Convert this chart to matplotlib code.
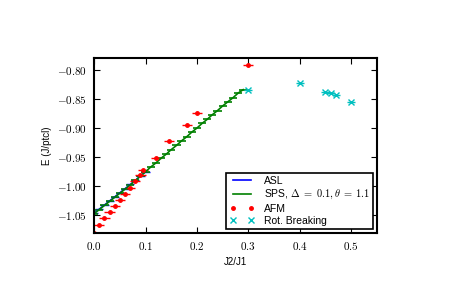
import matplotlib
matplotlib.use("Agg")
import matplotlib.pyplot as plt
from matplotlib.lines import Line2D
from matplotlib.ticker import FuncFormatter, MultipleLocator

plt.rcParams['mathtext.fontset'] = 'cm'
plt.rcParams['font.family'] = ['Liberation Sans', 'DejaVu Sans']

# ASL
asl_x = [0.0, 0.01, 0.02, 0.03, 0.04, 0.05, 0.06, 0.07, 0.08, 0.09, 0.10]
asl_y = [-1.046, -1.039, -1.032, -1.025, -1.018, -1.011, -1.004, -0.997, -0.990, -0.982, -0.975]

# SPS, Delta=0.1, theta=1.1
sps_x = [0.00, 0.01, 0.02, 0.03, 0.04, 0.05, 0.06, 0.07, 0.08, 0.09,
         0.10, 0.11, 0.12, 0.13, 0.14, 0.15, 0.16, 0.17, 0.18, 0.19,
         0.20, 0.21, 0.22, 0.23, 0.24, 0.25, 0.26, 0.27, 0.28, 0.29]
sps_y = [-1.047, -1.040, -1.033, -1.026, -1.019, -1.012, -1.005, -0.998, -0.990, -0.983,
         -0.975, -0.967, -0.960, -0.952, -0.945, -0.937, -0.930, -0.922, -0.915, -0.907,
         -0.900, -0.892, -0.885, -0.877, -0.870, -0.862, -0.855, -0.848, -0.840, -0.834]

# AFM
afm_x = [0.00, 0.01, 0.02, 0.03, 0.04, 0.05, 0.06, 0.07, 0.08, 0.09,
         0.095, 0.12, 0.145, 0.18, 0.20, 0.30]
afm_y = [-1.080, -1.067, -1.055, -1.045, -1.034, -1.024, -1.014, -1.003, -0.991, -0.981,
         -0.972, -0.951, -0.922, -0.894, -0.875, -0.791]

# Rot. Breaking
rot_x = [0.30, 0.40, 0.45, 0.46, 0.47, 0.50]
rot_y = [-0.834, -0.822, -0.838, -0.839, -0.843, -0.856]

fig = plt.figure(figsize=(4.71, 2.91), dpi=100)
ax = fig.add_axes([0.2, 0.2, 0.6, 0.6])

ax.errorbar(asl_x, asl_y, xerr=0.008, color='blue', lw=1.0)
ax.errorbar(sps_x, sps_y, xerr=0.008, color='green', lw=1.2)
ax.errorbar(afm_x, afm_y, xerr=0.01, color='red', fmt='o', ms=2.5, lw=1.0)
ax.errorbar(rot_x, rot_y, xerr=0.008, color='c', fmt='x', ms=4.5, mew=1.0, lw=1.0)

ax.set_xlim(0, 0.55)
ax.set_ylim(-1.08, -0.78)
ax.xaxis.set_major_locator(MultipleLocator(0.1))
ax.yaxis.set_major_locator(MultipleLocator(0.05))
ax.xaxis.set_major_formatter(FuncFormatter(lambda v, p: r'$%.1f$' % v))
ax.yaxis.set_major_formatter(FuncFormatter(lambda v, p: r'$%.2f$' % v))
ax.tick_params(direction='in', top=True, right=True, labelsize=8, length=4, width=0.8, pad=5)
for s in ax.spines.values():
    s.set_linewidth(1.5)

ax.set_xlabel('J2/J1', fontsize=7)
ax.set_ylabel('E (J/ptcl)', fontsize=7)

handles = [
    Line2D([], [], color='blue', lw=1.2),
    Line2D([], [], color='green', lw=1.2),
    Line2D([], [], color='red', ls='none', marker='o', ms=2.5),
    Line2D([], [], color='c', ls='none', marker='x', ms=4.5, mew=1.0),
]
labels = ['ASL', r'SPS, $\Delta\;=\;0.1, \theta\;=\;1.1$', 'AFM', 'Rot. Breaking']
leg = ax.legend(handles, labels, loc='lower right', fontsize=7.5, numpoints=2, fancybox=False,
                framealpha=1, borderaxespad=0.35, handlelength=2.4, labelspacing=0.22,
                borderpad=0.3, handletextpad=0.9)
leg.get_frame().set_edgecolor('black')
leg.get_frame().set_linewidth(1.2)

fig.savefig('out.png', dpi=100)
